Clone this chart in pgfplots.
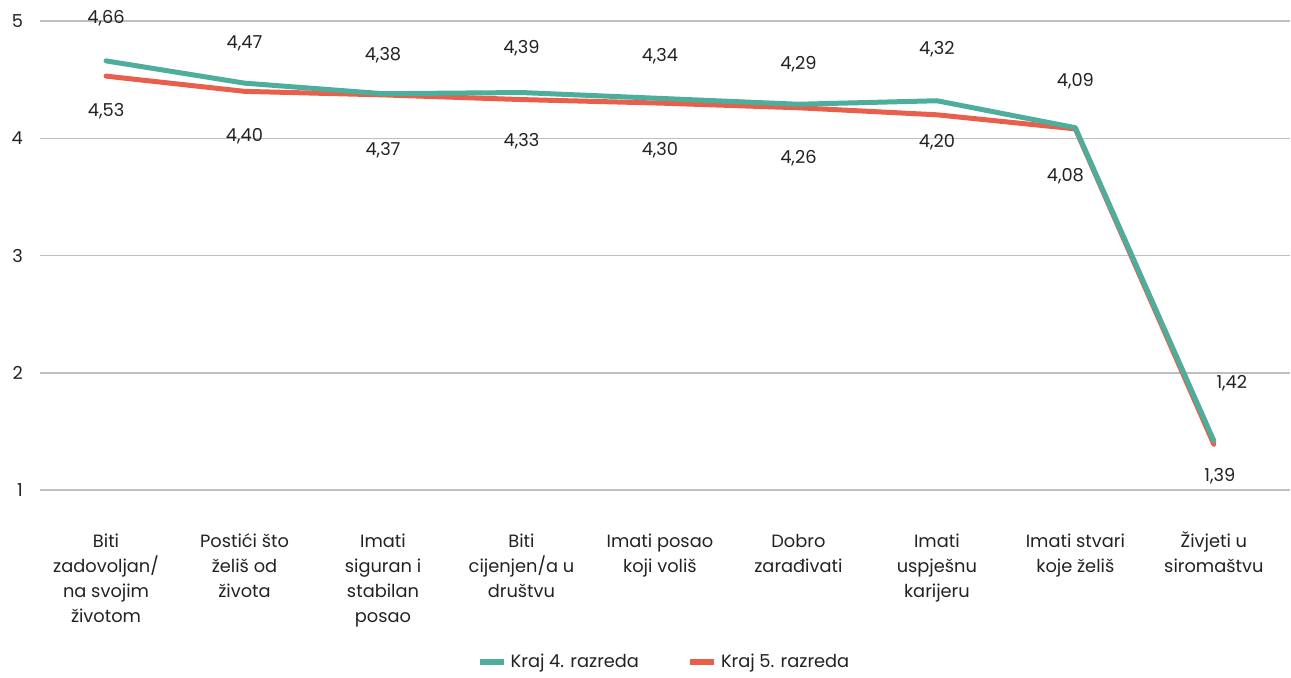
\documentclass[border=0pt]{standalone}
\usepackage{fontspec}
\setmainfont{Poppins}
\usepackage{pgfplots}
\usepackage{pgfplotstable}
\pgfplotsset{compat=1.18}
\definecolor{teal4}{HTML}{4DAE9C}
\definecolor{red5}{HTML}{E8604C}
\definecolor{gridc}{HTML}{BFBFBF}
\definecolor{txt}{HTML}{222222}
\pgfplotstableread{
x y lab dx dy
0 4.66 4,66 0 21.5
1 4.47 4,47 0 20
2 4.38 4,38 0 19
3 4.39 4,39 0 22
4 4.34 4,34 0 21
5 4.29 4,29 0 20
6 4.32 4,32 0 26
7 4.09 4,09 0 23
8 1.42 1,42 9 29
}\teal
\pgfplotstableread{
x y lab dx dy
0 4.53 4,53 0 -17.5
1 4.40 4,40 0 -22.5
2 4.37 4,37 0 -27.5
3 4.33 4,33 0 -21
4 4.30 4,30 0 -23.5
5 4.26 4,26 0 -25
6 4.20 4,20 0 -13.5
7 4.08 4,08 -5 -23.5
8 1.39 1,39 3 -16
}\redd
\begin{document}
\begin{tikzpicture}
\path[use as bounding box] (-20pt,-93.5pt) rectangle (625.5pt,245pt);
\begin{axis}[
  scale only axis,
  width=625pt, height=234.5pt,
  anchor=south west, at={(0,0)},
  xmin=-0.477, xmax=8.55,
  ymin=1, ymax=5,
  ytick={1,2,3,4,5},
  axis line style={draw=none},
  ymajorgrids,
  grid style={gridc, line width=0.75pt},
  major tick length=0pt,
  font=\fontsize{8.9}{12.5}\selectfont,
  tick label style={text=txt},
  /pgf/number format/assume math mode=true,
  yticklabel style={xshift=-5pt},
  xtick={0,...,8},
  xticklabels={{\vphantom{Ž}Biti\\zadovoljan/\\na svojim\\životom},{\vphantom{Ž}Postići što\\želiš od\\života},{\vphantom{Ž}Imati\\siguran i\\stabilan\\posao},{\vphantom{Ž}Biti\\cijenjen/a u\\društvu},{\vphantom{Ž}Imati posao\\koji voliš},{\vphantom{Ž}Dobro\\zarađivati},{\vphantom{Ž}Imati\\uspješnu\\karijeru},{\vphantom{Ž}Imati stvari\\koje želiš},{Živjeti u\\siromaštvu}},
  xticklabel style={align=center, anchor=north, yshift=-17pt},
  nodes near coords,
  point meta=explicit symbolic,
  visualization depends on={\thisrow{dx}\as\dx},
  visualization depends on={\thisrow{dy}\as\dy},
  every node near coord/.append style={anchor=center, xshift=\dx pt, yshift=\dy pt, text=txt, font=\fontsize{8.9}{11}\selectfont},
  legend style={draw=none, at={(0.5,-0.367)}, anchor=center, legend columns=2, font=\fontsize{8.9}{11}\selectfont, text=txt,
    /tikz/every even column/.append style={column sep=22pt}},
  legend image code/.code={\draw[#1, line width=3pt, line cap=butt] (-5pt,0pt) -- (7pt,0pt);},
  reverse legend,
]
\addplot[red5, line width=2.5pt, line join=round, line cap=round] table[x=x, y=y, meta=lab] {\redd};
\addlegendentry{Kraj 5. razreda}
\addplot[teal4, line width=2.5pt, line join=round, line cap=round] table[x=x, y=y, meta=lab] {\teal};
\addlegendentry{Kraj 4. razreda}
\end{axis}
\end{tikzpicture}
\end{document}
